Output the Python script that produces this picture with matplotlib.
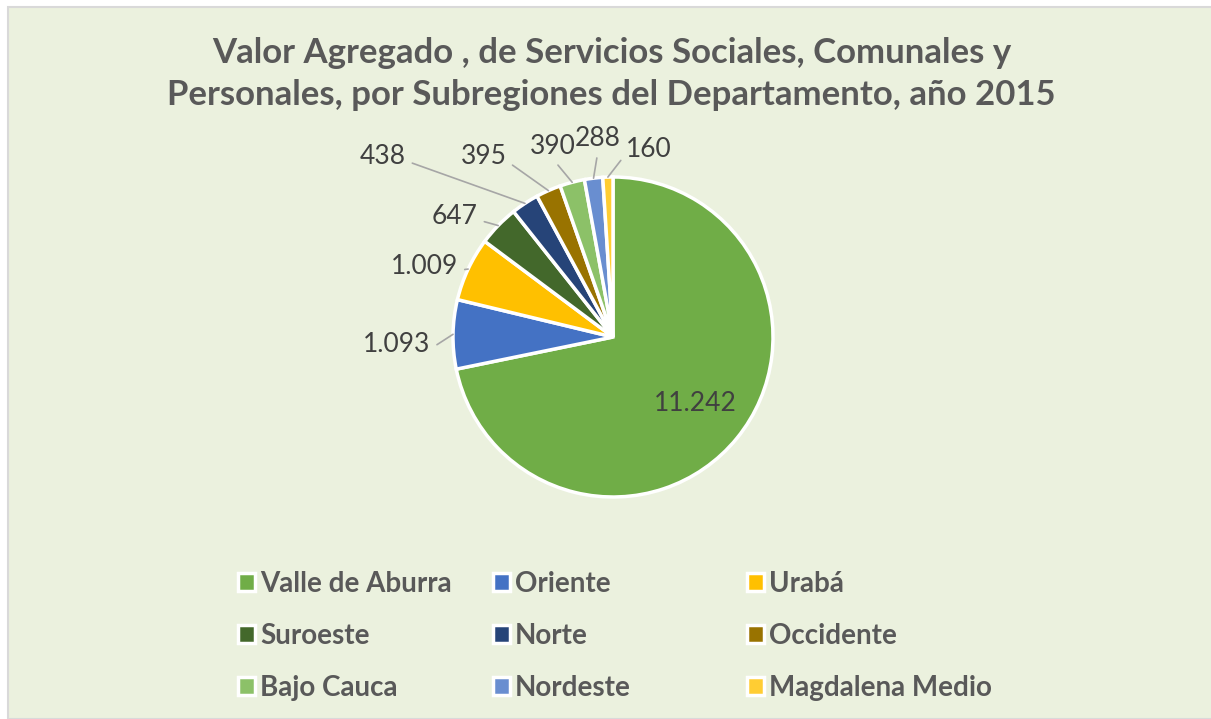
import matplotlib.pyplot as plt
from matplotlib.patches import Rectangle, Patch
import numpy as np

plt.rcParams['font.family'] = ['Lato', 'DejaVu Sans']

# Valor agregado 2015 por subregion (miles de millones)
regions = ['Valle de Aburra', 'Oriente', 'Urabá', 'Suroeste', 'Norte',
           'Occidente', 'Bajo Cauca', 'Nordeste', 'Magdalena Medio']
values = [11242, 1093, 1009, 647, 438, 395, 390, 288, 160]
colors = ['#70AD47', '#4472C4', '#FFC000', '#43682B', '#264478',
          '#997300', '#8CC168', '#698ED0', '#FFCD33']

title = ('Valor Agregado , de Servicios Sociales, Comunales y\n'
         'Personales, por Subregiones del Departamento, año 2015')

# where the outside labels sit (pie radius units); None = inside the slice
label_pos = [None, (-1.35, -0.05), (-1.18, 0.44), (-0.99, 0.756),
             (-1.44, 1.125), (-0.81, 1.125), (-0.375, 1.19),
             (-0.094, 1.24), (0.225, 1.17)]

W, H = 1211, 719
cx, cy, R = 613, 337, 160

fig = plt.figure(figsize=(W / 100, H / 100), dpi=100)
fig.patch.set_facecolor('white')
fig.add_artist(Rectangle((8 / W, 0), 1, 1 - 7 / H, transform=fig.transFigure,
                         facecolor='#EBF1DE', edgecolor='#D9D9D9', lw=1.5,
                         zorder=-10))

ax = fig.add_axes([0, 0, 1, 1])
wedges, _ = ax.pie(values, colors=colors, startangle=90, counterclock=False,
                   radius=1.0,
                   wedgeprops=dict(edgecolor='white', linewidth=2.5))
# pie() resets the limits, so set them afterwards
ax.set_xlim(-cx / R, (W - cx) / R)
ax.set_ylim(-(H - cy) / R, cy / R)
ax.set_aspect('equal')
ax.axis('off')


def fmt(v):
    return f'{v:,}'.replace(',', '.')


for w, v, pos in zip(wedges, values, label_pos):
    mid = np.deg2rad((w.theta1 + w.theta2) / 2)
    ex, ey = np.cos(mid), np.sin(mid)
    if pos is None:
        ax.text(0.66 * ex, 0.66 * ey, fmt(v), ha='center', va='center',
                fontsize=19, color='#404040')
        continue
    dx, dy = pos[0] - ex, pos[1] - ey
    if abs(dx) > abs(dy):
        rel = (1, 0.35) if dx < 0 else (0, 0.35)
    else:
        rel = (0.5, 0)
    ax.annotate(fmt(v), xy=(ex, ey), xytext=pos, ha='center', va='center',
                fontsize=19, color='#404040',
                arrowprops=dict(arrowstyle='-', color='#A6A6A6', lw=1.2,
                                relpos=rel, shrinkA=3, shrinkB=0))

fig.text(0.505, 1 - 74 / H, title, ha='center', va='center', fontsize=25,
         fontweight='bold', color='#595959', linespacing=1.4)

# legend: three columns, filled row by row like Excel
col_x = [238, 493, 747]
for c in range(3):
    idx = range(c, len(regions), 3)
    handles = [Patch(facecolor=colors[i], edgecolor='white', lw=2.5) for i in idx]
    fig.legend(handles, [regions[i] for i in idx], loc='upper left',
               bbox_to_anchor=(col_x[c] / W, 1 - 571 / H), frameon=False,
               prop=dict(weight='bold', size=20), labelcolor='#595959',
               handlelength=0.6, handleheight=0.6, handletextpad=0.2,
               labelspacing=0.93, borderpad=0, borderaxespad=0)

fig.savefig('out.png', dpi=100)
